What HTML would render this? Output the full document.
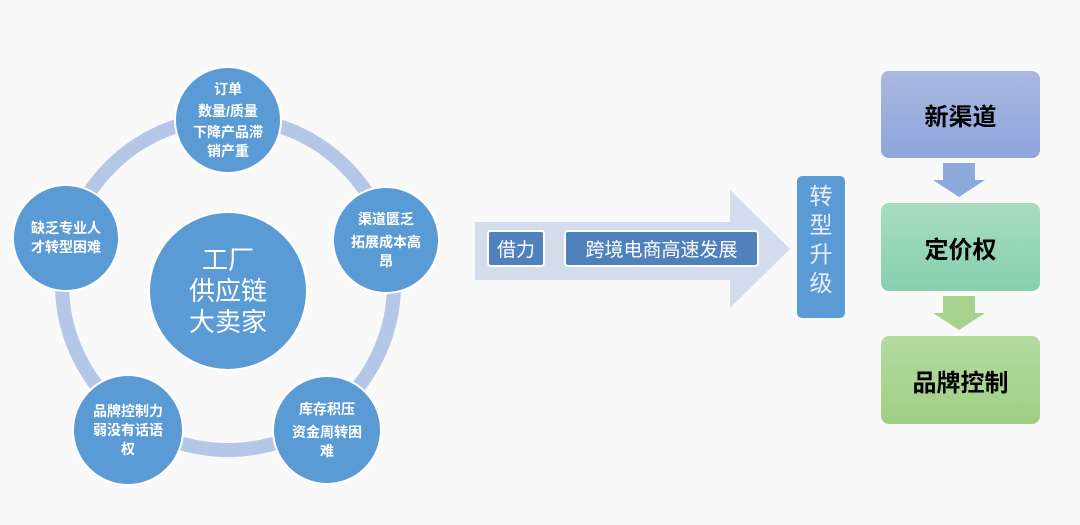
<!DOCTYPE html>
<html><head><meta charset="utf-8"><style>
body{margin:0;width:1080px;height:525px;background:#f9f9f9;font-family:"Liberation Sans","Noto Sans CJK SC",sans-serif;position:relative;overflow:hidden}
.c{position:absolute;border-radius:50%;background:#5b9bd5;border:2px solid #fff;color:#fff;display:flex;align-items:center;justify-content:center;text-align:center;font-weight:bold;font-size:14px;line-height:19px;box-sizing:border-box}
.b{position:absolute;border-radius:8px;display:flex;align-items:center;justify-content:center;font-weight:bold;font-size:24px;color:#000}
</style></head><body>
<svg width="1080" height="525" style="position:absolute;left:0;top:0">
<circle cx="228" cy="284" r="166" fill="none" stroke="#b4c7e7" stroke-width="14"/>
<polygon points="475,222 730,222 730,190 790,249 730,308 730,280 475,280" fill="#d3dced"/>
<polygon points="943,163 975,163 975,180 985,180 959,197 933,180 943,180" fill="#8ea9db"/>
<polygon points="943,296 975,296 975,313 985,313 959,330 933,313 943,313" fill="#a9d18e"/>
<defs>
<linearGradient id="g1" x1="0" y1="0" x2="0" y2="1"><stop offset="0" stop-color="#a9b8e0"/><stop offset="1" stop-color="#8ea5dc"/></linearGradient>
<linearGradient id="g2" x1="0" y1="0" x2="0" y2="1"><stop offset="0" stop-color="#a8dcc0"/><stop offset="1" stop-color="#86d0ae"/></linearGradient>
<linearGradient id="g3" x1="0" y1="0" x2="0" y2="1"><stop offset="0" stop-color="#b5dba0"/><stop offset="1" stop-color="#9fce84"/></linearGradient>
</defs>
<rect x="881" y="71" width="159" height="87" rx="8" fill="url(#g1)"/>
<rect x="881" y="203" width="159" height="88" rx="8" fill="url(#g2)"/>
<rect x="881" y="336" width="159" height="88" rx="8" fill="url(#g3)"/>
</svg>
<div class="c" style="left:148px;top:211px;width:160px;height:160px;font-size:26px;line-height:31px;font-weight:normal">工厂<br>供应链<br>大卖家</div>
<div class="c" style="left:174px;top:66px;width:108px;height:108px"><div>订单<br><span style="line-height:24px">数量/质量</span><br>下降产品滞<br>销产重</div></div>
<div class="c" style="left:332px;top:186px;width:108px;height:108px"><div>渠道匮乏<br><span style="display:block;margin-top:4px">拓展成本高<br>昂</span></div></div>
<div class="c" style="left:12px;top:184px;width:108px;height:108px"><div>缺乏专业人<br>才转型困难</div></div>
<div class="c" style="left:72px;top:374px;width:112px;height:112px"><div>品牌控制力<br>弱没有话语<br>权</div></div>
<div class="c" style="left:272px;top:375px;width:110px;height:110px"><div>库存积压<br><span style="display:block;margin-top:4px">资金周转困<br>难</span></div></div>
<div style="position:absolute;left:487px;top:230px;width:58px;height:37px;background:#4f81bd;border:2px solid #fff;border-radius:4px;box-sizing:border-box;color:#fff;font-size:19px;display:flex;align-items:center;justify-content:center">借力</div>
<div style="position:absolute;left:564px;top:230px;width:195px;height:37px;background:#4f81bd;border:2px solid #fff;border-radius:4px;box-sizing:border-box;color:#fff;font-size:19px;display:flex;align-items:center;justify-content:center">跨境电商高速发展</div>
<div style="position:absolute;left:797px;top:176px;width:48px;height:142px;background:#5b9bd5;border-radius:5px;color:#e8eef7;font-size:23px;line-height:29px;text-align:center;padding-top:6px;box-sizing:border-box">转<br>型<br>升<br>级</div>
<div class="b" style="left:881px;top:71px;width:159px;height:87px">新渠道</div>
<div class="b" style="left:881px;top:203px;width:159px;height:88px">定价权</div>
<div class="b" style="left:881px;top:336px;width:159px;height:88px">品牌控制</div>
</body></html>
